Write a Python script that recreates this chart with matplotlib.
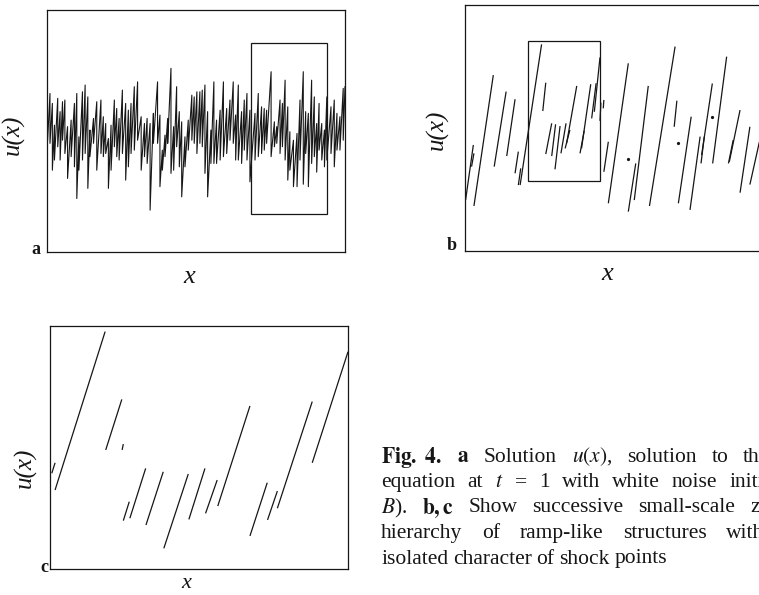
import numpy as np
import matplotlib
matplotlib.use("Agg")
import matplotlib.pyplot as plt
from matplotlib.patches import Rectangle
from matplotlib.collections import LineCollection

plt.rcParams['font.family'] = ['Liberation Serif', 'DejaVu Serif']
plt.rcParams['mathtext.fontset'] = 'stix'

W, H = 759, 595

# panel a: sawtooth, one ramp per entry (ramp ends at a_end, goes lo -> hi)
a_start = 0.2
a_end = [1.0, 1.8, 2.5, 3.6, 4.4, 5.2, 6.0, 6.9, 8.1, 9.2, 10.0, 10.7, 11.9, 12.8, 13.7, 14.4, 15.6, 16.7,
         18.1, 18.9, 19.7, 20.6, 21.5, 22.6, 23.4, 24.2, 25.3, 26.4, 27.3, 28.2, 29.3, 30.4, 31.6, 32.7, 33.6,
         34.6, 35.7, 37.1, 37.9, 38.7, 39.6, 40.5, 41.6, 42.5, 43.5, 44.4, 45.2, 46.3, 47.4, 48.6, 49.4, 50.3,
         51.3, 52.1, 53.0, 53.9, 55.0, 56.0, 56.9, 58.1, 59.2, 60.3, 61.4, 62.5, 63.3, 64.2, 65.3, 66.2, 67.1,
         68.1, 69.8, 70.9, 72.0, 72.9, 73.7, 75.2, 76.3, 77.1, 78.2, 79.0, 79.9, 80.8, 81.5, 82.7, 83.9,
         84.9, 86.0, 86.8, 87.7, 88.8, 89.7, 90.5, 91.3, 92.2, 93.1, 93.9, 95.3, 96.4, 97.3, 98.3, 99.4, 100.0]
a_lo = [46.2, 44.9, 33.8, 38.0, 43.5, 38.0, 46.2, 40.7, 30.4, 39.4, 35.2, 22.1, 33.8, 38.0, 40.7, 26.3, 39.4, 44.9,
        33.8, 40.7, 39.4, 40.7, 26.3, 33.8, 43.5, 39.4, 38.0, 40.7, 29.7, 35.2, 40.7, 42.1, 46.2, 33.8, 39.4,
        36.6, 17.3, 44.9, 44.9, 27.0, 33.8, 39.4, 44.9, 32.5, 33.8, 43.5, 35.2, 22.8, 35.2, 42.1, 46.2, 44.9,
        40.7, 44.9, 43.5, 32.5, 22.8, 36.6, 36.6, 36.6, 38.0, 39.4, 40.7, 46.2, 44.9, 38.0, 38.0, 36.6, 42.1,
        38.0, 29.0, 38.0, 39.4, 40.7, 42.1, 44.9, 39.4, 43.5, 44.9, 40.7, 43.5, 38.0, 29.7, 33.8, 27.0,
        27.0, 38.0, 28.0, 40.7, 27.0, 36.6, 39.4, 33.0, 42.1, 38.0, 35.2, 38.0, 40.7, 35.2, 42.1, 42.1, 46.2]
a_hi = [65.5, 61.4, 52.4, 63.5, 58.0, 62.1, 62.8, 51.8, 54.5, 61.4, 65.5, 47.6, 66.2, 69.0, 64.1, 50.4, 55.2, 62.1,
        62.8, 55.9, 53.1, 46.9, 52.4, 62.8, 59.3, 55.2, 66.9, 61.4, 58.6, 61.4, 68.3, 70.3, 55.9, 53.1, 55.2,
        53.1, 57.3, 70.3, 56.6, 42.1, 48.3, 55.2, 75.9, 51.8, 68.3, 58.0, 53.8, 47.6, 54.5, 64.8, 64.1, 66.2,
        66.2, 66.9, 69.0, 58.0, 50.4, 70.3, 54.5, 58.6, 70.3, 59.3, 62.8, 70.3, 56.6, 69.0, 58.0, 62.8, 65.5,
        58.6, 57.3, 65.5, 60.0, 59.3, 58.6, 74.5, 53.8, 51.8, 62.8, 61.4, 71.0, 60.0, 49.7, 46.2, 49.0,
        62.8, 74.5, 58.0, 57.3, 71.0, 64.1, 53.1, 61.4, 53.1, 50.4, 64.1, 60.0, 62.8, 57.3, 55.9, 67.6, 68.3]
a_box = (68.5, 15.7, 94.0, 86.4)   # x0, u0, x1, u1 -> zoom shown in b

# panel b: separate ramps (x0, u0) -> (x1, u1)
b_x0 = [0.2, 2.2, 3.0, 9.8, 14.0, 16.8, 17.9, 18.5, 26.1, 27.1, 29.1, 30.2, 32.2, 33.6, 34.1, 38.6, 39.1, 42.5,
        43.4, 45.3, 46.4, 46.6, 48.1, 54.8, 56.8, 61.9, 70.2, 71.6, 75.5, 79.2, 79.4, 83.1, 88.4, 88.7, 92.3, 95.6]
b_u0 = [20.7, 34.3, 18.3, 34.3, 38.6, 31.6, 26.8, 26.8, 56.9, 39.4, 38.6, 33.2, 39.7, 41.7, 43.8, 39.7, 41.7, 53.9,
        56.6, 52.9, 58.0, 32.2, 19.4, 16.0, 20.7, 18.3, 50.5, 19.4, 16.7, 35.6, 39.0, 35.6, 35.6, 36.3, 23.7, 27.0]
b_x1 = [2.8, 3.0, 9.5, 13.8, 16.8, 17.9, 18.7, 25.7, 27.1, 29.1, 30.4, 31.9, 33.9, 35.2, 37.5, 40.0, 42.2, 44.0,
        45.3, 45.6, 46.6, 48.1, 54.8, 57.3, 61.5, 70.5, 71.1, 75.9, 78.9, 80.3, 83.0, 87.8, 90.0, 92.3, 95.6, 98.8]
b_u1 = [43.1, 39.7, 71.5, 64.8, 61.7, 40.4, 33.6, 84.0, 68.4, 51.9, 51.5, 50.8, 51.9, 49.2, 67.1, 48.9, 67.8, 68.2,
        78.7, 60.3, 61.4, 44.4, 76.3, 35.6, 67.1, 83.1, 61.1, 54.6, 46.5, 46.5, 68.1, 79.0, 45.1, 57.3, 50.5, 44.4]
b_dot_x = [54.6, 71.4, 83.0]
b_dot_u = [37.6, 43.8, 54.3]
b_box = (21.1, 28.5, 45.3, 85.4)

# panel c
c_x0 = [0.6, 1.7, 18.7, 24.2, 24.6, 26.8, 32.2, 38.2, 46.6, 52.2, 56.3, 67.1, 73.0, 76.3, 88.0]
c_u0 = [39.4, 32.5, 49.0, 49.0, 19.9, 20.9, 18.1, 8.5, 20.4, 22.9, 25.9, 13.6, 20.2, 25.0, 43.7]
c_x1 = [1.7, 18.5, 24.1, 24.6, 26.6, 32.1, 38.0, 46.4, 52.0, 56.1, 67.1, 72.9, 76.3, 88.0, 100.0]
c_u1 = [43.7, 97.7, 69.8, 51.4, 27.7, 41.4, 40.0, 39.1, 41.4, 36.6, 67.1, 35.5, 32.1, 68.9, 89.4]

# caption, justified: (words, index of word whose left edge is pinned, pixel x of it)
caption = [
    ([r"$\mathbf{Fig.\ 4.}$", r"$\mathbf{a}$", "Solution", r"$u(x)$,", "solution", "to", "the", "Burgers"], 6, 743),
    (["equation", "at", r"$t$", "=", "1", "with", "white", "noise", "initial", "data"], 8, 729),
    ([r"$B$).", r"$\mathbf{b,c}$", "Show", "successive", "small-scale", "zooms"], 5, 750),
    (["hierarchy", "of", "ramp-like", "structures", "with", "the"], 4, 726),
    (["isolated", "character", "of", "shock", "points"], None, None),
]
cap_x0, cap_y0, cap_dy = 381, 457, 25.5

ink = '#161616'


def frame(left, top, w, h):
    ax = fig.add_axes([left / W, 1 - (top + h) / H, w / W, h / H])
    ax.set_xlim(0, 100)
    ax.set_ylim(0, 100)
    ax.set_xticks([])
    ax.set_yticks([])
    for s in ax.spines.values():
        s.set_linewidth(0.9)
        s.set_color(ink)
    return ax


def px(x, y, s, **kw):
    fig.text(x / W, 1 - y / H, s, ha='center', va='center', color=ink, **kw)


fig = plt.figure(figsize=(W / 100, H / 100), dpi=100)

# --- a
ax = frame(47, 10, 298, 242)
xs, us = [a_start], [a_lo[0]]
for i in range(len(a_end)):
    xs.append(a_end[i]); us.append(a_hi[i])
    if i + 1 < len(a_end):
        xs.append(a_end[i]); us.append(a_lo[i + 1])
ax.plot(xs, us, color=ink, lw=0.8)
ax.add_patch(Rectangle((a_box[0], a_box[1]), a_box[2] - a_box[0], a_box[3] - a_box[1],
                       fill=False, lw=0.9, ec=ink))

# --- b
ax = frame(465, 5, 298, 246)
segs = [[(b_x0[i], b_u0[i]), (b_x1[i], b_u1[i])] for i in range(len(b_x0))]
ax.add_collection(LineCollection(segs, colors=ink, linewidths=0.9))
ax.plot(b_dot_x, b_dot_u, 'o', ms=1.3, color=ink)
ax.add_patch(Rectangle((b_box[0], b_box[1]), b_box[2] - b_box[0], b_box[3] - b_box[1],
                       fill=False, lw=0.9, ec=ink))

# --- c
ax = frame(50, 326, 298, 243)
segs = [[(c_x0[i], c_u0[i]), (c_x1[i], c_u1[i])] for i in range(len(c_x0))]
ax.add_collection(LineCollection(segs, colors=ink, linewidths=0.9))

# labels
for (lx, ly), (ux, uy), (xx, xy, xs_), name in [((36, 249), (13, 135), (189, 277, 19), 'a'),
                                                 ((452, 245), (437, 130), (607, 274, 19), 'b'),
                                                 ((44, 567), (25, 468), (186, 584, 16), 'c')]:
    px(lx, ly, name, fontsize=13, fontweight='bold')
    px(ux, uy, 'u(x)', fontsize=18, style='italic', rotation=90)
    px(xx, xy, 'x', fontsize=xs_, style='italic')

# caption, word by word so the lines can be justified like the print
renderer = fig.canvas.get_renderer()
for k, (words, pin, pin_x) in enumerate(caption):
    y = 1 - (cap_y0 + cap_dy * k) / H
    texts = [fig.text(0, y, w, ha='left', va='center', fontsize=15.5, color=ink) for w in words]
    widths = [t.get_window_extent(renderer).width for t in texts]
    if pin is None:
        gap = 4.8
    else:
        gap = (pin_x - cap_x0 - sum(widths[:pin])) / pin
    x = cap_x0
    for t, w in zip(texts, widths):
        t.set_x(x / W)
        x += w + gap

fig.savefig('out.png', dpi=100)
